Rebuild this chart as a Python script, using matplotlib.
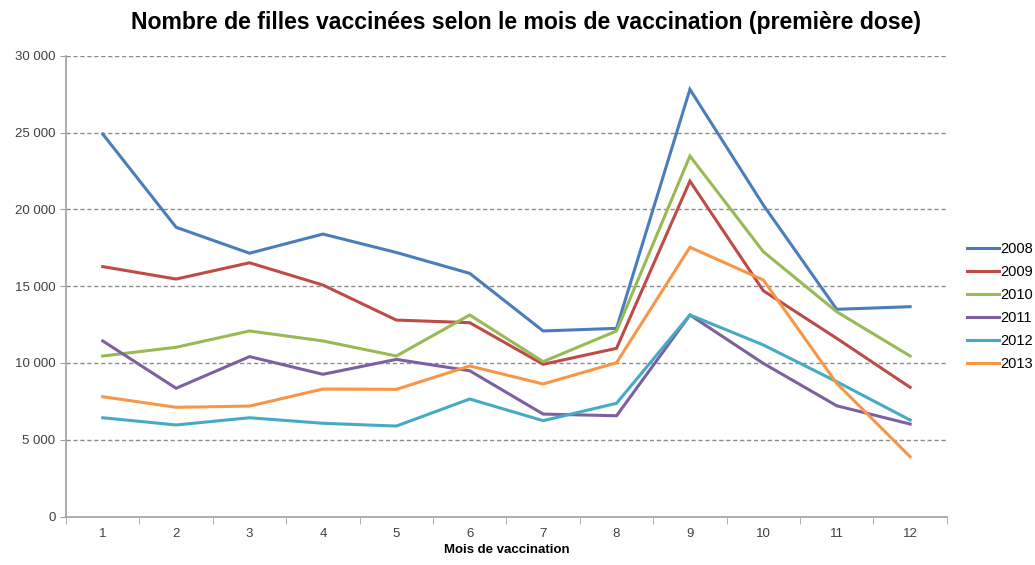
import numpy as np
import matplotlib.pyplot as plt
from matplotlib.ticker import FuncFormatter, MultipleLocator

plt.rcParams['font.family'] = ['Liberation Sans', 'DejaVu Sans']

# données
mois = list(range(1, 13))
annees = ['2008', '2009', '2010', '2011', '2012', '2013']
v2008 = [24900, 18830, 17140, 18390, 17190, 15830, 12080, 12250, 27810, 20280, 13490, 13660]
v2009 = [16270, 15460, 16520, 15070, 12790, 12620, 9910, 10950, 21840, 14700, 11600, 8410]
v2010 = [10450, 11020, 12080, 11430, 10450, 13120, 10080, 12080, 23470, 17240, 13330, 10450]
v2011 = [11430, 8350, 10410, 9260, 10230, 9490, 6670, 6560, 13120, 9970, 7210, 6020]
v2012 = [6430, 5960, 6430, 6070, 5890, 7650, 6240, 7370, 13120, 11170, 8780, 6280]
v2013 = [7800, 7110, 7190, 8300, 8280, 9800, 8630, 10010, 17530, 15400, 8670, 3890]
series = [v2008, v2009, v2010, v2011, v2012, v2013]
couleurs = ['#4A7EBB', '#BE4B48', '#98B954', '#7D60A0', '#46AAC5', '#F79646']

fig = plt.figure(figsize=(10.35, 5.65), dpi=100)
ax = fig.add_axes([0.0638, 0.0858, 0.851, 0.8156])

for vals, nom, c in zip(series, annees, couleurs):
    ax.plot(mois, vals, color=c, lw=2.2, label=nom, solid_joinstyle='miter')

ax.set_xlim(0.5, 12.5)
ax.set_ylim(0, 30000)
ax.yaxis.set_major_locator(MultipleLocator(5000))
ax.yaxis.set_major_formatter(FuncFormatter(lambda v, p: f'{int(v):,}'.replace(',', ' ')))
ax.set_xticks(mois)
ax.set_xticks(np.arange(0.5, 13, 1), minor=True)
ax.tick_params(axis='x', which='major', length=0, pad=8, labelsize=9.5, labelcolor='#404040')
ax.tick_params(axis='x', which='minor', length=5, color='#A0A0A0')
ax.tick_params(axis='y', length=4, color='#A0A0A0', labelsize=9.5, labelcolor='#404040')

for y in range(5000, 30001, 5000):
    ax.axhline(y, color='#8C8C8C', lw=1, ls=(0, (3, 2)), zorder=0)

for s in ['top', 'right']:
    ax.spines[s].set_visible(False)
for s in ['left', 'bottom']:
    ax.spines[s].set_color('#A0A0A0')
    ax.spines[s].set_linewidth(1.2)

ax.set_xlabel('Mois de vaccination', fontsize=9.5, fontweight='bold', labelpad=3)
fig.suptitle('Nombre de filles vaccinées selon le mois de vaccination (première dose)',
             fontsize=16.6, fontweight='bold', x=0.508, y=0.961, va='center')

ax.legend(loc='center left', bbox_to_anchor=(1.008, 0.455), frameon=False,
          fontsize=10.5, handlelength=2.2, handletextpad=0.1, labelspacing=0.62)

fig.savefig('out.png', dpi=100)
